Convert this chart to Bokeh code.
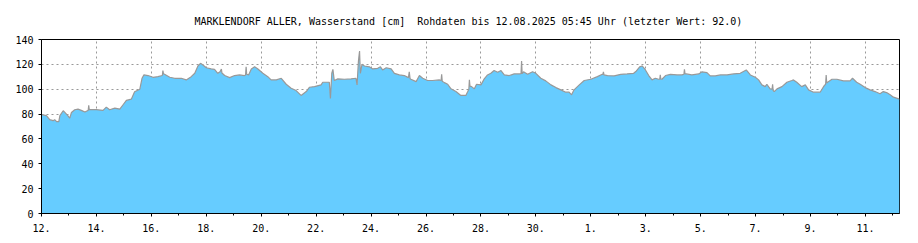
from bokeh.plotting import figure
from bokeh.models import FixedTicker, Range1d, Title
from bokeh.embed import file_html
from bokeh.resources import INLINE

# ---- data (days since 12.07.2025 00:00, water level in cm) ----
t_days = [
    0.00, 0.18, 0.30, 0.42, 0.48, 0.55, 0.63, 0.67, 0.79, 0.85,
    0.95, 1.03, 1.09, 1.21, 1.33, 1.45, 1.58, 1.67, 1.70, 1.72,
    1.74, 1.82, 2.00, 2.24, 2.36, 2.48, 2.67, 2.85, 2.97, 3.09,
    3.27, 3.39, 3.58, 3.66, 3.73, 3.88, 4.06, 4.24, 4.40, 4.42,
    4.44, 4.48, 4.67, 4.85, 5.09, 5.27, 5.45, 5.58, 5.70, 5.79,
    5.88, 6.00, 6.18, 6.30, 6.42, 6.50, 6.55, 6.57, 6.67, 6.85,
    7.03, 7.21, 7.39, 7.43, 7.45, 7.47, 7.54, 7.64, 7.76, 7.88,
    8.06, 8.24, 8.36, 8.55, 8.73, 8.91, 9.09, 9.27, 9.45, 9.64,
    9.76, 9.94, 10.18, 10.24, 10.48, 10.52, 10.57, 10.61, 10.66, 10.79,
    11.03, 11.27, 11.45, 11.49, 11.54, 11.58, 11.61, 11.67, 11.76, 11.94,
    12.06, 12.24, 12.34, 12.42, 12.55, 12.73, 12.85, 13.03, 13.21, 13.36,
    13.39, 13.42, 13.45, 13.64, 13.76, 13.88, 14.06, 14.24, 14.48, 14.55,
    14.57, 14.59, 14.67, 14.79, 14.91, 15.09, 15.27, 15.45, 15.52, 15.56,
    15.58, 15.60, 15.66, 15.76, 15.84, 16.00, 16.12, 16.24, 16.36, 16.48,
    16.61, 16.73, 16.85, 17.03, 17.21, 17.39, 17.46, 17.48, 17.50, 17.55,
    17.70, 17.88, 18.00, 18.18, 18.36, 18.55, 18.73, 18.91, 19.09, 19.21,
    19.30, 19.39, 19.58, 19.76, 20.00, 20.24, 20.42, 20.44, 20.46, 20.48,
    20.61, 20.85, 21.09, 21.32, 21.56, 21.66, 21.78, 21.87, 21.99, 22.11,
    22.23, 22.35, 22.47, 22.51, 22.53, 22.55, 22.59, 22.72, 22.90, 23.14,
    23.32, 23.39, 23.41, 23.43, 23.48, 23.68, 23.93, 24.05, 24.23, 24.35,
    24.53, 24.72, 24.96, 25.20, 25.44, 25.66, 25.81, 25.99, 26.11, 26.23,
    26.35, 26.41, 26.53, 26.60, 26.62, 26.64, 26.68, 26.78, 26.96, 27.14,
    27.32, 27.38, 27.50, 27.68, 27.81, 27.93, 28.11, 28.35, 28.50, 28.55,
    28.57, 28.59, 28.65, 28.78, 28.96, 29.20, 29.44, 29.53, 29.68, 29.81,
    29.99, 30.17, 30.35, 30.53, 30.65, 30.77, 30.90, 31.02, 31.24,
]
level_cm = [
    79.5, 78.7, 75.5, 74.7, 75.5, 73.9, 73.9, 78.7, 82.7, 81.3,
    78.9, 76.8, 81.3, 83.5, 84.0, 83.0, 81.6, 82.7, 83.0, 87.0,
    83.5, 83.5, 83.5, 83.0, 85.6, 83.5, 84.8, 84.0, 87.5, 91.0,
    92.0, 98.0, 100.0, 108.8, 111.5, 111.0, 109.6, 110.1, 111.0, 115.0,
    112.5, 112.0, 109.6, 108.8, 108.8, 107.5, 110.1, 112.8, 118.9, 120.8,
    119.5, 117.3, 116.3, 116.0, 112.8, 114.0, 116.3, 113.0, 111.0, 109.3,
    111.0, 111.5, 111.0, 111.5, 118.0, 112.0, 111.5, 116.3, 118.0, 116.3,
    112.8, 110.1, 107.5, 107.5, 108.8, 104.0, 100.8, 98.9, 95.0, 98.1,
    101.6, 102.1, 103.5, 105.6, 105.6, 92.5, 113.0, 116.0, 107.0, 108.3,
    108.0, 108.3, 108.8, 103.5, 122.7, 130.7, 112.8, 120.0, 118.7, 118.0,
    116.3, 116.8, 118.0, 115.5, 117.3, 116.3, 112.8, 111.5, 111.0, 109.3,
    114.0, 108.5, 108.0, 106.1, 111.0, 108.8, 107.0, 107.0, 107.5, 107.0,
    112.0, 106.5, 105.3, 104.0, 100.3, 98.1, 95.0, 95.0, 98.1, 100.0,
    107.5, 102.5, 102.1, 100.3, 104.0, 103.5, 108.3, 111.5, 112.8, 115.0,
    113.6, 115.0, 111.5, 111.0, 112.3, 112.3, 112.5, 122.7, 112.5, 114.0,
    112.0, 114.0, 112.8, 108.8, 106.7, 103.5, 101.3, 99.5, 97.6, 97.6,
    95.5, 99.5, 103.5, 107.0, 108.0, 110.1, 112.0, 112.0, 114.0, 111.5,
    111.0, 110.7, 112.0, 112.3, 112.8, 114.7, 118.0, 118.7, 115.5, 111.0,
    107.5, 108.8, 108.0, 108.0, 111.5, 108.0, 108.0, 111.0, 112.0, 111.5,
    111.5, 112.0, 116.0, 112.3, 112.3, 111.5, 112.3, 114.0, 113.3, 110.7,
    110.7, 111.5, 111.5, 112.3, 112.8, 115.5, 111.5, 109.6, 107.5, 103.5,
    102.1, 104.0, 100.3, 100.0, 104.0, 99.0, 98.1, 100.3, 102.1, 105.6,
    107.0, 107.5, 105.6, 102.1, 103.5, 99.5, 97.6, 97.6, 102.9, 104.0,
    111.5, 105.0, 106.1, 108.0, 108.0, 106.7, 106.7, 108.8, 105.6, 104.0,
    101.3, 99.5, 98.1, 96.3, 98.1, 97.3, 95.5, 93.6, 92.0,
]

major_ticks = [0, 2, 4, 6, 8, 10, 12, 14, 16, 18, 20, 22, 24, 26, 28, 30]
major_labels = ["12.", "14.", "16.", "18.", "20.", "22.", "24.", "26.",
                "28.", "30.", "1.", "3.", "5.", "7.", "9.", "11."]
minor_ticks = [1, 3, 5, 7, 9, 11, 13, 15, 17, 19, 21, 23, 25, 27, 29, 31]
y_ticks = [0, 20, 40, 60, 80, 100, 120, 140]
# the double space after [cm] is kept with a no-break space (SVG collapses spaces)
title_text = ("MARKLENDORF ALLER, Wasserstand [cm]\u00a0 Rohdaten bis "
              "12.08.2025 05:45 Uhr (letzter Wert: 92.0)")

FONT = "DejaVu Sans Mono"

p = figure(width=918, height=243, output_backend="svg", toolbar_location=None,
           x_range=Range1d(0, 31.24), y_range=Range1d(0, 140),
           min_border_left=41, min_border_right=19, min_border_top=39,
           min_border_bottom=30, background_fill_color="white",
           border_fill_color="white")
p.title.visible = False
ttl = Title(text=title_text, text_font=FONT, text_font_size="10px",
            text_font_style="normal", text_color="black",
            align="left", offset=153, standoff=25)
p.add_layout(ttl, "above")

p.outline_line_color = "black"
p.outline_line_width = 1

p.varea(x=t_days, y1=0, y2=level_cm, fill_color="#66CCFF", fill_alpha=1.0)
p.line(x=t_days, y=level_cm, line_color="#999999", line_width=1.2)

# axes
p.xaxis.ticker = FixedTicker(ticks=major_ticks, minor_ticks=minor_ticks)
p.xaxis.major_label_overrides = {t: l for t, l in zip(major_ticks, major_labels)}
p.yaxis.ticker = FixedTicker(ticks=y_ticks, minor_ticks=[])
for ax in (p.xaxis[0], p.yaxis[0]):
    ax.axis_line_color = "black"
    ax.axis_line_width = 1
    ax.major_tick_line_color = "black"
    ax.minor_tick_line_color = "black"
    ax.major_tick_out = 3
    ax.major_tick_in = 0
    ax.minor_tick_out = 2
    ax.minor_tick_in = 0
    ax.major_label_text_font = FONT
    ax.major_label_text_font_size = "10px"
    ax.major_label_text_color = "black"
p.xaxis.major_label_standoff = 7
p.yaxis.major_label_standoff = 5

for g in (p.xgrid[0], p.ygrid[0]):
    g.grid_line_color = "#999999"
    g.grid_line_dash = "2 3"
    g.grid_line_width = 1
p.xgrid.ticker = FixedTicker(ticks=major_ticks)
p.ygrid.ticker = FixedTicker(ticks=y_ticks)

open("out.html", "w").write(file_html(p, INLINE))
